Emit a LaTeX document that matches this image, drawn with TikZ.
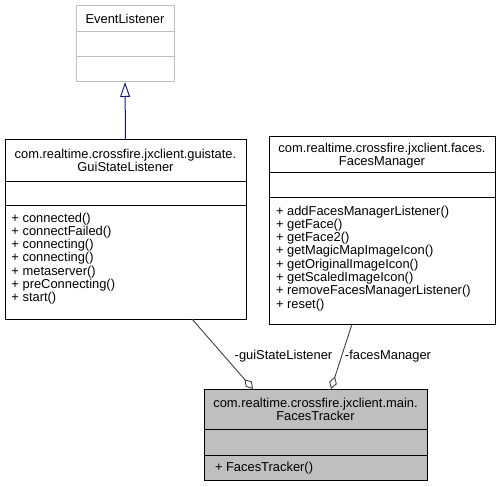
\documentclass[tikz,border=0pt]{standalone}
\usepackage{fontspec}
\setmainfont{Liberation Sans}
\usetikzlibrary{arrows.meta}
\definecolor{grey75}{HTML}{BFBFBF}
\definecolor{edgegray}{HTML}{404040}
\definecolor{midnight}{HTML}{191970}
\begin{document}
\begin{tikzpicture}[x=1pt,y=-1pt,
  every node/.style={font=\fontsize{12.9}{13.3}\selectfont, inner sep=0pt, outer sep=0pt},
  classbox/.style={draw=black, line width=1pt, anchor=north west},
  extbox/.style={draw=grey75, line width=1pt, anchor=north west},
  divider/.style={line width=1pt},
  inh/.style={draw=midnight, line width=1pt, -{Triangle[open,length=15pt,width=10pt]}},
  agg/.style={draw=edgegray, line width=0.9pt, {Diamond[open,length=13pt,width=8pt]}-},
  lbl/.style={anchor=base}
]
\useasboundingbox (0,0) rectangle (501,487);

% EventListener
\node[extbox, minimum width=98pt, minimum height=76pt] (el) at (76,6) {};
\draw[divider, draw=grey75] (el.west |- 0,32) -- (el.east |- 0,32);
\draw[divider, draw=grey75] (el.west |- 0,57) -- (el.east |- 0,57);
\node[lbl] (elt) at (125,23.5) {EventListener};

% GuiStateListener
\node[classbox, minimum width=241pt, minimum height=180pt] (gsl) at (5,139) {};
\draw[divider] (gsl.west |- 0,181) -- (gsl.east |- 0,181);
\draw[divider] (gsl.west |- 0,205) -- (gsl.east |- 0,205);
\node[lbl] (gslt1) at (125.5,158) {com.realtime.crossfire.jxclient.guistate.};
\node[lbl] (gslt2) at (125.5,171.3) {GuiStateListener};
\foreach \t [count=\i from 0] in {connected(),connectFailed(),connecting(),connecting(),metaserver(),preConnecting(),start()}
  \node[anchor=base west] (gslm\i) at (11.5,{222+13.3*\i}) {+ \t};

% FacesManager
\node[classbox, minimum width=226pt, minimum height=188pt] (fm) at (269,136) {};
\draw[divider] (fm.west |- 0,172) -- (fm.east |- 0,172);
\draw[divider] (fm.west |- 0,197) -- (fm.east |- 0,197);
\node[lbl] (fmt1) at (382,152.5) {com.realtime.crossfire.jxclient.faces.};
\node[lbl] (fmt2) at (382,165.8) {FacesManager};
\foreach \t [count=\i from 0] in {addFacesManagerListener(),getFace(),getFace2(),getMagicMapImageIcon(),getOriginalImageIcon(),getScaledImageIcon(),removeFacesManagerListener(),reset()}
  \node[anchor=base west] (fmm\i) at (276,{215+13.3*\i}) {+ \t};

% FacesTracker
\node[classbox, fill=grey75, minimum width=223pt, minimum height=91pt] (ft) at (204,389) {};
\draw[divider] (ft.west |- 0,429) -- (ft.east |- 0,429);
\draw[divider] (ft.west |- 0,455) -- (ft.east |- 0,455);
\node[lbl] (ftt1) at (315.5,407.4) {com.realtime.crossfire.jxclient.main.};
\node[lbl] (ftt2) at (315.5,420.7) {FacesTracker};
\node[anchor=base west] (ftm0) at (215,471.8) {+ FacesTracker()};

% connectors
\draw[inh] (gsl.north) -- (el.south);
\draw[agg] ([xshift=-62.5pt]ft.north) -- ([xshift=66.5pt]gsl.south);
\draw[agg] ([xshift=15.5pt]ft.north) -- ([xshift=-30pt]fm.south);

% labels
\node[lbl] (lgsl) at (283.5,359.8) {-guiStateListener};
\node[lbl] (lfm) at (388,359.8) {-facesManager};
\end{tikzpicture}
\end{document}
